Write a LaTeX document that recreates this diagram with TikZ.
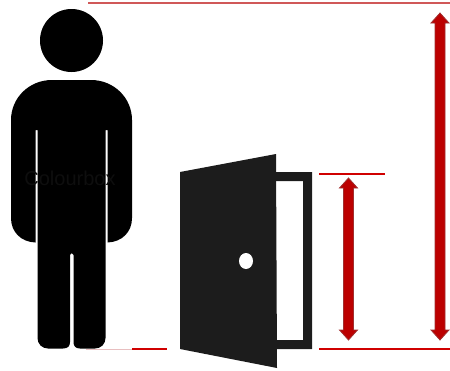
\documentclass[tikz,border=0pt]{standalone}
\usepackage{fontspec}
\setsansfont{Liberation Sans}
\definecolor{doorgray}{HTML}{1C1C1C}
\definecolor{arrowred}{HTML}{BC0000}
\definecolor{arrowedge}{HTML}{A03030}
\definecolor{linered}{HTML}{D00000}
\definecolor{linesoft}{HTML}{D05858}
\definecolor{linepale}{HTML}{E8BFC0}
\definecolor{mark}{HTML}{0E0E0E}
\tikzset{
  figure/.style={fill=black,draw=none},
  doorpart/.style={fill=doorgray,draw=none,even odd rule},
  redline/.style={draw=linered,line width=1.1pt},
  softline/.style={draw=linesoft,line width=1.3pt},
  paleline/.style={draw=linepale,line width=0.9pt},
  bigarrow/.style={fill=arrowred,draw=arrowedge,line width=0.8pt,line join=miter},
}
\newcommand{\dblarrow}[3]{% x, top tip, bottom tip
  \path[bigarrow] (#1,#2) -- ({#1+9},{#2+10}) -- ({#1+5},{#2+10}) -- ({#1+5},{#3-10}) -- ({#1+9},{#3-10})
    -- (#1,#3) -- ({#1-9},{#3-10}) -- ({#1-5},{#3-10}) -- ({#1-5},{#2+10}) -- ({#1-9},{#2+10}) -- cycle;}
\begin{document}
\begin{tikzpicture}[x=1pt,y=-1pt]
\useasboundingbox (0,0) rectangle (450,370);
% person
\fill[figure] (71.5,40.5) circle (31.5);
\path[figure] (52,80) -- (91,80) .. controls (114,80) and (132,98) .. (132,120)
  -- (132,218) .. controls (132,232) and (122,242) .. (107.5,242.5)
  -- (107.5,130) -- (105.5,130)
  -- (105.5,338) .. controls (105.5,344) and (101,348.5) .. (95,348.5)
  -- (80,348.5) .. controls (75.5,348.5) and (73.5,346) .. (73.5,342)
  -- (73.5,255) .. controls (73.5,252.5) and (70,252.5) .. (70,255)
  -- (70,342) .. controls (70,346) and (68,348.5) .. (63,348.5)
  -- (48,348.5) .. controls (42,348.5) and (37.5,344) .. (37.5,338)
  -- (37.5,130) -- (35.5,130)
  -- (35.5,242.5) .. controls (21,242) and (11,232) .. (11,218)
  -- (11,120) .. controls (11,98) and (29,80) .. (52,80) -- cycle;
\node[text=mark,font=\sffamily\fontsize{20}{20}\selectfont,anchor=center] (wm) at (70,178) {Colourbox};
% door
\path[doorpart] (270,172) -- (312,172) -- (312,349) -- (270,349) -- cycle
  (270,181) -- (303,181) -- (303,340) -- (270,340) -- cycle;
\fill[doorgray] (180,172) -- (276,154) -- (277,368) -- (180,349) -- cycle;
\fill[white] (246,261) ellipse (7 and 8);
% guide lines
\draw[softline] (88,3) -- (450,3);
\draw[redline] (319,174) -- (385,174);
\draw[redline] (319,349) -- (450,349);
\draw[paleline] (86,349) -- (132,349);
\draw[redline] (132,349) -- (167,349);
% arrows
\dblarrow{440}{13}{340}
\dblarrow{348.5}{178}{340}
\end{tikzpicture}
\end{document}
